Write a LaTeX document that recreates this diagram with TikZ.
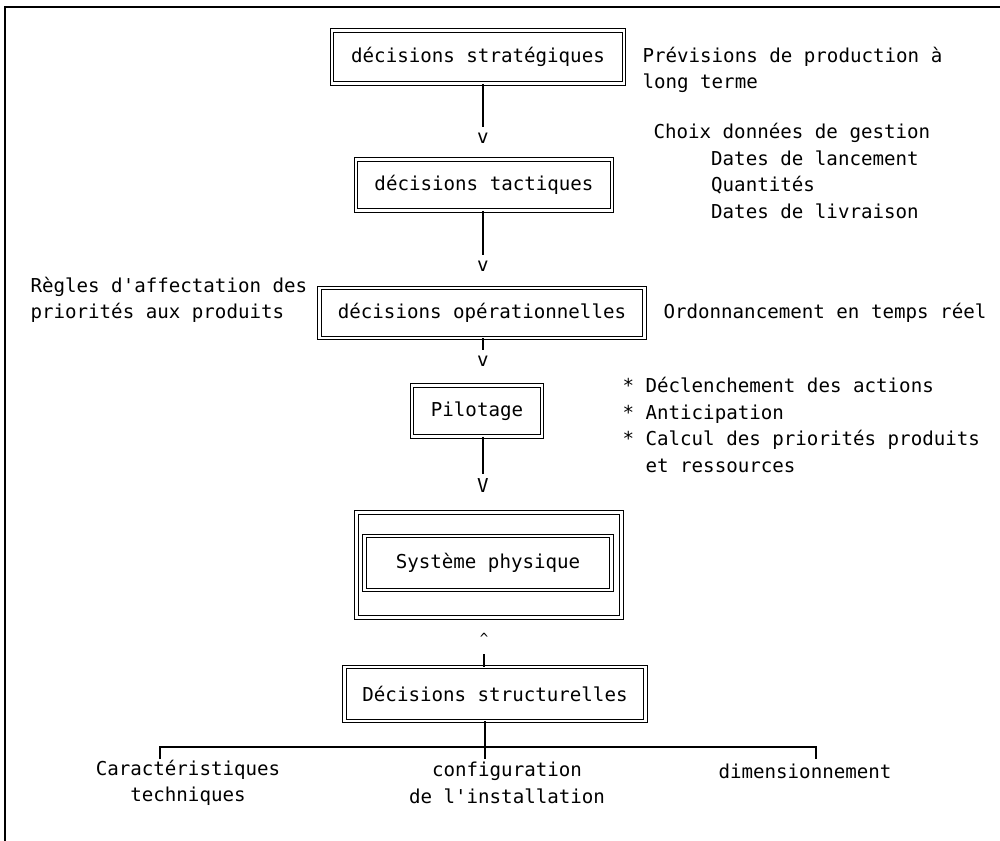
\documentclass[tikz,border=0pt]{standalone}
\usepackage{fontspec}
\setmonofont{DejaVu Sans Mono}
\usetikzlibrary{positioning}

\begin{document}
\begin{tikzpicture}[x=0.02cm, y=-0.02cm,
        font=\ttfamily\fontsize{10.9}{15}\selectfont,
        dbox/.style={draw, double, line width=0.5pt, double distance=1.5pt, inner sep=0pt},
        tip/.style={inner sep=0pt, outer sep=3pt},
        txt/.style={align=left, inner sep=0pt, anchor=west},
        lbl/.style={align=center, inner sep=0pt},
        every path/.style={line width=0.6pt}]
        \useasboundingbox (0,0) rectangle (1000,841);
        \draw (5,841) -- (5,7) -- (1000,7);

        \node[dbox, minimum width=5.84cm, minimum height=1.06cm] (strat) at (478,57) {décisions stratégiques};
        \node[dbox, minimum width=5.12cm, minimum height=1.02cm] (tact) at (484,185) {décisions tactiques};
        \node[dbox, minimum width=6.5cm, minimum height=1cm] (oper) at (482,313) {décisions opérationnelles};
        \node[dbox, minimum width=2.6cm, minimum height=1.02cm] (pilot) at (477,411) {Pilotage};
        \node[dbox, minimum width=5.3cm, minimum height=2.1cm] (phys-out) at (489,565) {};
        \node[dbox, minimum width=4.94cm, minimum height=1.08cm] (phys) at (488,563) {Système physique};
        \node[dbox, minimum width=6.02cm, minimum height=1.08cm] (struct) at (495,694) {Décisions structurelles};

        \node[tip] (v1) at (483,138) {v};
        \node[tip] (v2) at (483,266) {v};
        \node[tip] (v3) at (483,361) {v};
        \node[tip] (v4) at (483,486) {V};
        \node[tip, font=\ttfamily\fontsize{8}{8}\selectfont] (up) at (484,638) {\textasciicircum};

        \node[txt] (prev) at (642,70) {Prévisions de production à\\long terme};
        \node[txt] (choix) at (653,171) {Choix données de gestion\\\phantom{Choix}Dates de lancement\\\phantom{Choix}Quantités\\\phantom{Choix}Dates de livraison};
        \node[txt] (regles) at (30,300) {Règles d'affectation des\\priorités aux produits};
        \node[txt] (ordo) at (663,313) {Ordonnancement en temps réel};
        \node[txt] (actions) at (622,425) {* Déclenchement des actions\\* Anticipation\\* Calcul des priorités produits\\\phantom{* }et ressources};

        \draw (v1 |- strat.south) -- (v1);
        \draw (v2 |- tact.south) -- (v2);
        \draw (v3 |- oper.south) -- (v3);
        \draw (v4 |- pilot.south) -- (v4);
        \draw (up |- struct.north) -- ++(0,-13);

        % branches
        \coordinate (bl) at (160,747);
        \coordinate (br) at (816,747);
        \coordinate (bm) at (485,759);
        \draw (bl) ++(0,12) -- (bl) -- (br) -- ++(0,12);
        \draw (bm |- struct.south) -- (bm);

        \node[lbl] (carac) at (188,783) {Caractéristiques\\techniques};
        \node[lbl] (config) at (507,783) {configuration\\de l'installation};
        \node[lbl, anchor=north] (dimens) at (805,763) {dimensionnement};
\end{tikzpicture}
\end{document}
